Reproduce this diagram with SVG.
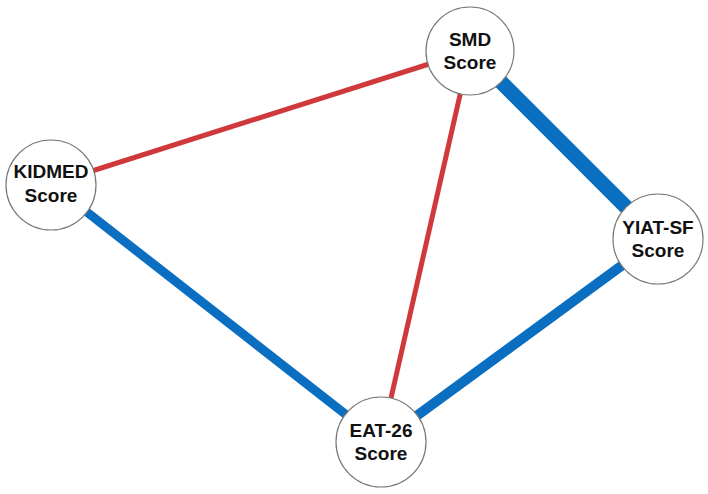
<svg xmlns="http://www.w3.org/2000/svg" width="708" height="494" viewBox="0 0 708 494">
<style>
.node circle{fill:#fff;stroke:#777;stroke-width:1.2}
.node text{font-family:"Liberation Sans",Arial,sans-serif;font-weight:bold;font-size:19px;fill:#111;text-anchor:middle}
.neg{stroke:#d0393b;stroke-linecap:butt}
.pos{stroke:#0b6fc1;stroke-linecap:butt}
</style>
<rect width="708" height="494" fill="#fff"/>
<g id="connectors">
<line class="neg" x1="470" y1="51" x2="51" y2="184" stroke-width="5"/>
<line class="neg" x1="470" y1="51" x2="381" y2="442" stroke-width="5"/>
<line class="pos" x1="470" y1="51" x2="658" y2="239" stroke-width="15"/>
<line class="pos" x1="51" y1="184" x2="381" y2="442" stroke-width="9"/>
<line class="pos" x1="658" y1="239" x2="381" y2="442" stroke-width="10"/>
</g>
<g id="node-smd" class="node">
<circle cx="470" cy="51" r="44"/>
<text x="470" y="46">SMD</text>
<text x="470" y="69">Score</text>
</g>
<g id="node-kidmed" class="node">
<circle cx="51" cy="185" r="45"/>
<text x="51" y="178">KIDMED</text>
<text x="51" y="202">Score</text>
</g>
<g id="node-yiat" class="node">
<circle cx="658" cy="239" r="45"/>
<text x="658" y="234">YIAT-SF</text>
<text x="658" y="257">Score</text>
</g>
<g id="node-eat" class="node">
<circle cx="381" cy="442" r="45"/>
<text x="381" y="437">EAT-26</text>
<text x="381" y="460">Score</text>
</g>
</svg>
